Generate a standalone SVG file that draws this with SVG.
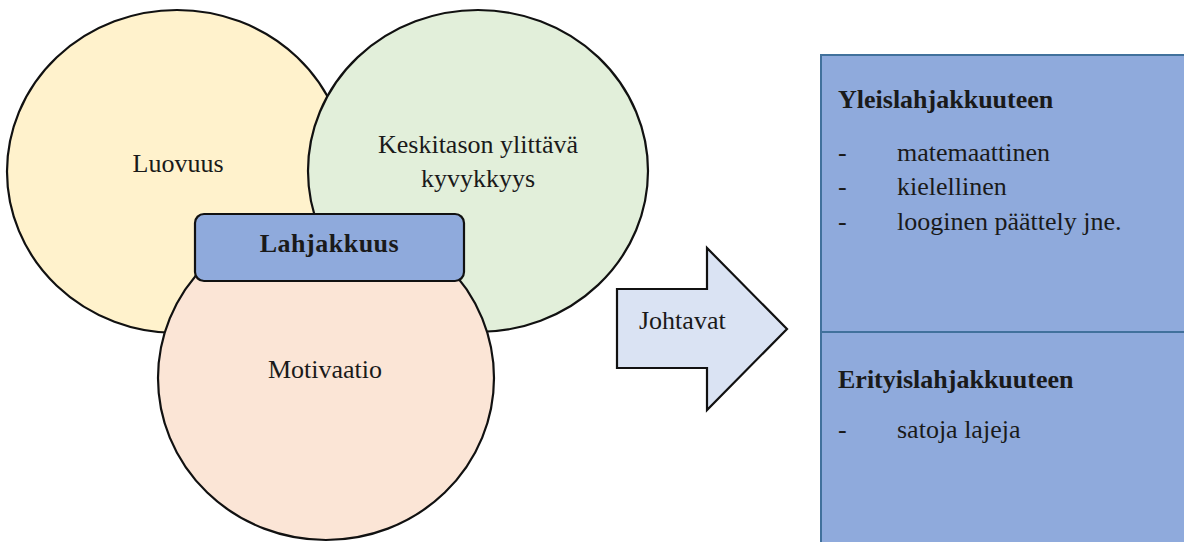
<svg xmlns="http://www.w3.org/2000/svg" width="1184" height="542" viewBox="0 0 1184 542" font-family="'Liberation Serif', 'Times New Roman', Times, 'DejaVu Serif', serif">
<style>
.c{stroke:#111;stroke-width:2.2}
.t{font-family:'Liberation Serif','Times New Roman',Times,'DejaVu Serif',serif;font-size:26px;fill:#1a1a1a}
.b{font-weight:bold}
.m{text-anchor:middle}
</style>
<rect width="1184" height="542" fill="#fff"/>
<g id="luovuus">
<ellipse class="c" cx="177" cy="171.5" rx="170" ry="161.5" fill="#fff2cc"/>
<text class="t m" x="178" y="172">Luovuus</text>
</g>
<g id="kyvykkyys">
<ellipse class="c" cx="478" cy="171" rx="170" ry="161" fill="#e2efda"/>
<text class="t m" x="478" y="153">Keskitason ylittävä</text>
<text class="t m" x="478" y="187">kyvykkyys</text>
</g>
<g id="motivaatio">
<ellipse class="c" cx="326" cy="378" rx="168" ry="162" fill="#fbe5d6"/>
<text class="t m" x="325" y="378">Motivaatio</text>
</g>
<g id="lahjakkuus">
<rect class="c" x="195" y="214" width="269" height="67" rx="9" fill="#8faadc" stroke-width="2.5"/>
<text class="t b m" x="329.5" y="252" letter-spacing="0.5">Lahjakkuus</text>
</g>
<g id="connectors">
<g id="johtavat">
<polygon points="617,289 707,289 707,248 787,329 707,410 707,368 617,368" fill="#dae3f3" stroke="#111" stroke-width="2.2" stroke-linejoin="miter"/>
<text class="t" x="639" y="329">Johtavat</text>
</g>
</g>
<g id="lahjakkuuden-lajit">
<rect x="821" y="55" width="380" height="500" fill="#8faadc" stroke="#41719c" stroke-width="2"/>
<line x1="821" y1="332" x2="1184" y2="332" stroke="#41719c" stroke-width="2"/>
<text class="t b" x="838" y="108">Yleislahjakkuuteen</text>
<text class="t" x="838" y="161">-</text>
<text class="t" x="897" y="161">matemaattinen</text>
<text class="t" x="838" y="195">-</text>
<text class="t" x="897" y="195">kielellinen</text>
<text class="t" x="838" y="230">-</text>
<text class="t" x="897" y="230">looginen päättely jne.</text>
<text class="t b" x="838" y="388">Erityislahjakkuuteen</text>
<text class="t" x="838" y="438">-</text>
<text class="t" x="897" y="438">satoja lajeja</text>
</g>
</svg>
